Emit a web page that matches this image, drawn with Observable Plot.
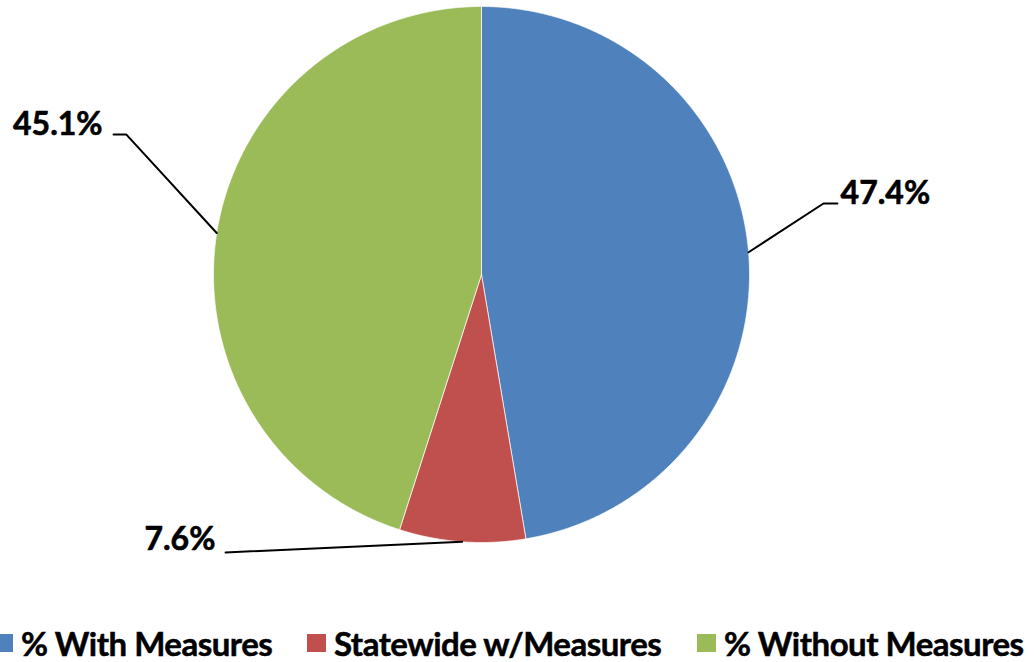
<!DOCTYPE html>
<html><head><meta charset="utf-8">
<script src="https://cdn.jsdelivr.net/npm/d3@7"></script>
<script src="https://cdn.jsdelivr.net/npm/@observablehq/plot@0.6"></script>
<style>
html,body{margin:0;padding:0;background:#fff;overflow:hidden;}
#wrap{position:relative;width:1034px;height:662px;}
#legend{position:absolute;left:0;top:624px;width:1034px;height:38px;font-family:Lato,"Open Sans",sans-serif;font-weight:bold;font-size:33px;color:#000;}
.item{position:absolute;top:0;display:flex;align-items:center;height:38px;white-space:nowrap;letter-spacing:-0.5px;-webkit-text-stroke:0.5px #000;}
.sw{width:19px;height:18px;margin-right:8px;display:inline-block;}
</style></head>
<body><div id="wrap"><div id="chart"></div><div id="legend"></div></div>
<script>
const categories = ["% With Measures", "Statewide w/Measures", "% Without Measures"];
const values = [47.4, 7.6, 45.1];
const valueLabels = ["47.4%", "7.6%", "45.1%"];
const colors = ["#4F81BD", "#C0504D", "#9BBB59"];

// layout (in units of the pie radius, relative to the centre)
const W = 1034, H = 624, CX = 481, CY = 274, R = 268;
const layout = [
  {elbow: [1.276, 0.265], end: [1.328, 0.265], text: [1.340, 0.300], anchor: "start"},
  {elbow: null,           end: [-0.955, -1.037], text: [-0.993, -0.990], anchor: "end"},
  {elbow: [-1.325, 0.522], end: [-1.373, 0.522], text: [-1.414, 0.560], anchor: "end"}
];
const legendX = [-6, 307, 697];

const rows = categories.map((c, i) => ({cat: c, value: values[i], label: valueLabels[i]}));
const arcs = d3.pie().sort(null).value(d => d.value)(rows);

// slice polygons
const poly = [];
arcs.forEach(a => {
  poly.push({cat: a.data.cat, x: 0, y: 0});
  const n = Math.max(2, Math.ceil((a.endAngle - a.startAngle) / 0.005));
  for (let k = 0; k <= n; k++) {
    const t = a.startAngle + (a.endAngle - a.startAngle) * k / n;
    poly.push({cat: a.data.cat, x: Math.sin(t), y: Math.cos(t)});
  }
  poly.push({cat: a.data.cat, x: 0, y: 0});
});

// leader lines
const leaders = [];
const texts = [];
arcs.forEach((a, i) => {
  const m = (a.startAngle + a.endAngle) / 2;
  const L = layout[i];
  leaders.push({cat: a.data.cat, x: Math.sin(m), y: Math.cos(m)});
  if (L.elbow) leaders.push({cat: a.data.cat, x: L.elbow[0], y: L.elbow[1]});
  leaders.push({cat: a.data.cat, x: L.end[0], y: L.end[1]});
  texts.push({label: a.data.label, x: L.text[0], y: L.text[1], anchor: L.anchor});
});

const textStyle = {x: "x", y: "y", text: "label", fontSize: 32, fontWeight: "bold", fontFamily: "Lato, 'Open Sans', sans-serif", fill: "#000", stroke: "#000", strokeWidth: 0.6};

const chart = Plot.plot({
  width: W, height: H,
  marginTop: 0, marginRight: 0, marginBottom: 0, marginLeft: 0,
  x: {axis: null, domain: [-CX / R, (W - CX) / R]},
  y: {axis: null, domain: [(CY - H) / R, CY / R]},
  color: {domain: categories, range: colors},
  style: {background: "#fff"},
  marks: [
    Plot.line(poly, {x: "x", y: "y", z: "cat", fill: "cat", stroke: "#fff", strokeWidth: 1, strokeOpacity: 0.7, curve: "linear"}),
    Plot.line(leaders, {x: "x", y: "y", z: "cat", stroke: "#000", strokeWidth: 2, curve: "linear"}),
    Plot.text(texts.filter(d => d.anchor === "start"), {...textStyle, textAnchor: "start"}),
    Plot.text(texts.filter(d => d.anchor === "end"), {...textStyle, textAnchor: "end"})
  ]
});
document.getElementById("chart").appendChild(chart);

const leg = document.getElementById("legend");
categories.forEach((c, i) => {
  const it = document.createElement("div");
  it.className = "item";
  it.style.left = legendX[i] + "px";
  const sw = document.createElement("span");
  sw.className = "sw";
  sw.style.background = colors[i];
  const tx = document.createElement("span");
  tx.textContent = c;
  it.appendChild(sw); it.appendChild(tx);
  leg.appendChild(it);
});
</script>
</body></html>
